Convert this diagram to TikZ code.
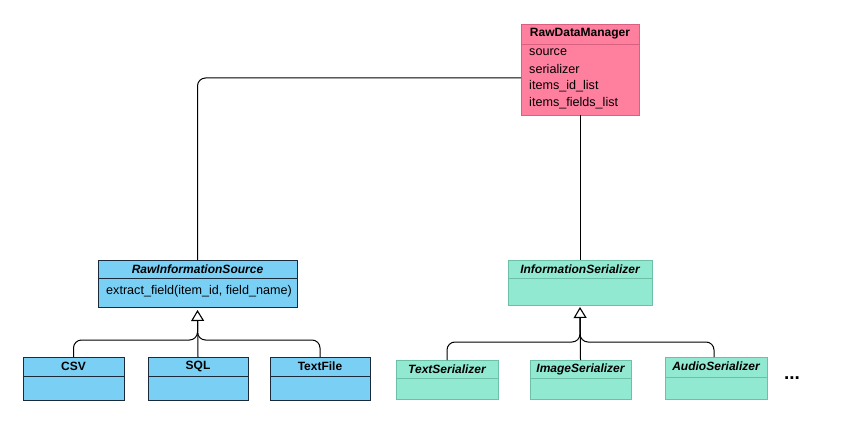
\documentclass[tikz,border=0pt]{standalone}
\usepackage{fontspec}
\setmainfont{Liberation Sans}
\usetikzlibrary{arrows.meta,calc}
\definecolor{pinkfill}{HTML}{FF7F9F}
\definecolor{pinkline}{HTML}{D9607F}
\definecolor{bluefill}{HTML}{7ACFF5}
\definecolor{blueline}{HTML}{1A2A3A}
\definecolor{tealfill}{HTML}{91E9D2}
\definecolor{tealline}{HTML}{6DBFA6}
\begin{document}
\begin{tikzpicture}[x=1pt,y=-1pt,
  cls/.style={draw,line width=0.9pt,anchor=north west,inner sep=0pt,outer sep=0pt},
  pinkcls/.style={cls,fill=pinkfill,draw=pinkline},
  bluecls/.style={cls,fill=bluefill,draw=blueline},
  tealcls/.style={cls,fill=tealfill,draw=tealline},
  ttl/.style={font=\fontsize{12}{14}\selectfont\bfseries,inner sep=0pt},
  ittl/.style={font=\fontsize{12}{14}\selectfont\bfseries\itshape,inner sep=0pt},
  attr/.style={font=\fontsize{12.6}{14}\selectfont,inner sep=0pt,anchor=west},
  conn/.style={line width=1pt,rounded corners=8pt},
  inh/.style={conn,-{Triangle[open,length=11pt,width=13pt,line width=1.1pt]}}
]
\useasboundingbox (0,0) rectangle (856,422);
% RawDataManager
\node[pinkcls,minimum width=118pt,minimum height=91pt] (rdm) at (521,24) {};
\draw[pinkline,line width=0.9pt] (521,44) -- (639,44);
\node[ttl] (rdmt) at (580,34) {RawDataManager};
\node[attr] (a1) at (529,52) {source};
\node[attr] (a2) at (529,69) {serializer};
\node[attr] (a3) at (529,86) {items\_id\_list};
\node[attr] (a4) at (529,103) {items\_fields\_list};
% RawInformationSource
\node[bluecls,minimum width=199pt,minimum height=47pt] (ris) at (98,260) {};
\draw[blueline,line width=0.9pt] (98,278) -- (297,278);
\node[ittl] (rist) at (197.5,269) {RawInformationSource};
\node[attr] (m1) at (106,291) {extract\_field(item\_id, field\_name)};
% InformationSerializer
\node[tealcls,minimum width=144pt,minimum height=45pt] (is) at (508,260) {};
\draw[tealline,line width=0.9pt] (508,278) -- (652,278);
\node[ittl] (ist) at (580,269) {InformationSerializer};
% sources
\node[bluecls,minimum width=101pt,minimum height=43pt] (csv) at (23,357) {};
\draw[blueline,line width=0.9pt] (23,376) -- (124,376);
\node[ttl] at (73.5,366.5) {CSV};
\node[bluecls,minimum width=100pt,minimum height=43pt] (sql) at (148,357) {};
\draw[blueline,line width=0.9pt] (148,376) -- (248,376);
\node[ttl] at (198,366.5) {SQL};
\node[bluecls,minimum width=100pt,minimum height=43pt] (tf) at (270,357) {};
\draw[blueline,line width=0.9pt] (270,376) -- (370,376);
\node[ttl] at (320,366.5) {TextFile};
% serializers
\node[tealcls,minimum width=102pt,minimum height=39pt] (ts) at (396,360) {};
\draw[tealline,line width=0.9pt] (396,378) -- (498,378);
\node[ittl] at (447,369) {TextSerializer};
\node[tealcls,minimum width=101pt,minimum height=39pt] (imgs) at (530,360) {};
\draw[tealline,line width=0.9pt] (530,378) -- (631,378);
\node[ittl] at (580.5,369) {ImageSerializer};
\node[tealcls,minimum width=102pt,minimum height=42pt] (aus) at (665,357) {};
\draw[tealline,line width=0.9pt] (665,377) -- (767,377);
\node[ittl] at (716,366) {AudioSerializer};
\node[font=\fontsize{19}{20}\selectfont\bfseries,inner sep=0pt] (dots) at (792,378) {...};
% associations
\draw[conn] ($(rdm.north west)+(0,54)$) -| (ris.north);
\draw[conn] (rdm.south) -- (rdm.south |- is.north);
% inheritance
\coordinate (rj) at ($(ris.south)+(0,33)$);
\coordinate (rb) at ($(ris.south)+(0,14)$);
\coordinate (rt) at ($(ris.south)+(0,3)$);
\draw[conn] (csv.north) |- (rj) -- (rb);
\draw[conn] (tf.north) |- (rj) -- (rb);
\draw[inh] (sql.north) -- (rt);
\coordinate (sj) at ($(is.south)+(0,37)$);
\coordinate (sb) at ($(is.south)+(0,13)$);
\coordinate (st) at ($(is.south)+(0,2)$);
\draw[conn] (ts.north) |- (sj) -- (sb);
\draw[conn] ($(aus.north)+(-2,0)$) |- (sj) -- (sb);
\draw[inh] (imgs.north) -- (st);
\end{tikzpicture}
\end{document}
